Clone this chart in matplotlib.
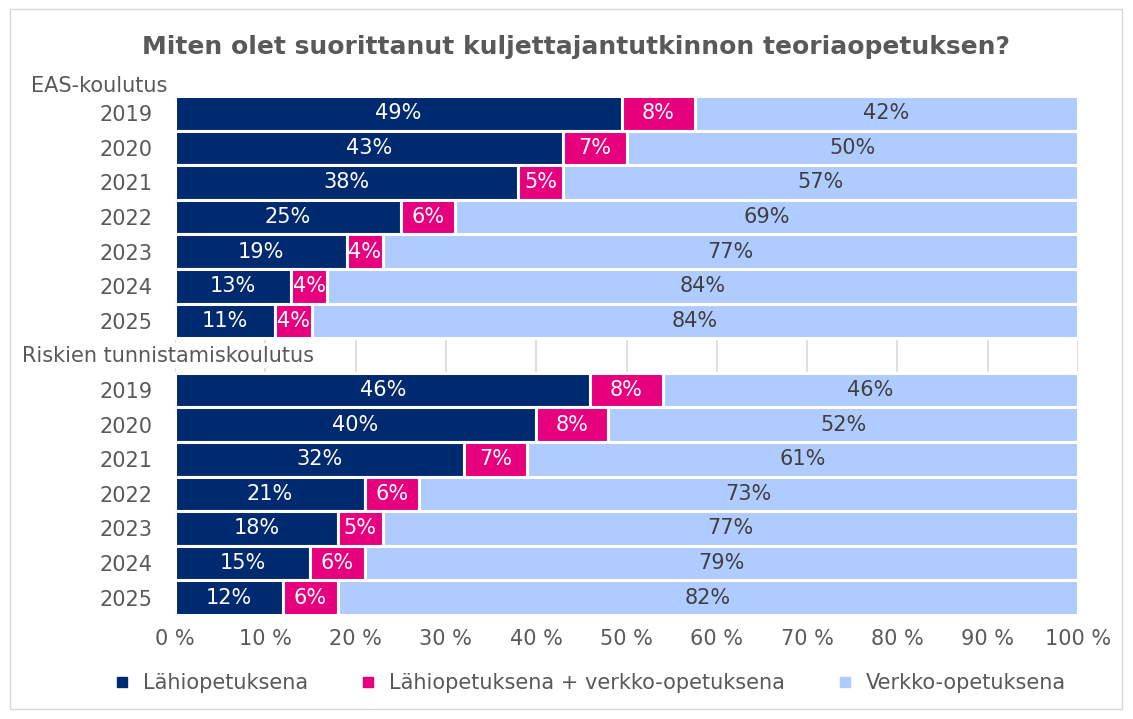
import numpy as np
import matplotlib.pyplot as plt
from matplotlib.lines import Line2D

years = ['2019', '2020', '2021', '2022', '2023', '2024', '2025']
groups = ['EAS-koulutus', 'Riskien tunnistamiskoulutus']
series = ['Lähiopetuksena', 'Lähiopetuksena + verkko-opetuksena', 'Verkko-opetuksena']

eas_lahi = [49, 43, 38, 25, 19, 13, 11]
eas_both = [8, 7, 5, 6, 4, 4, 4]
eas_verkko = [42, 50, 57, 69, 77, 84, 84]

risk_lahi = [46, 40, 32, 21, 18, 15, 12]
risk_both = [8, 8, 7, 6, 5, 6, 6]
risk_verkko = [46, 52, 61, 73, 77, 79, 82]

colors = ['#002A70', '#E6007E', '#AFCBFF']
text_colors = ['white', 'white', '#404040']
gray = '#595959'
fs = 15

fig = plt.figure(figsize=(11.33, 7.19), dpi=100)
ax = fig.add_axes([175 / 1133, 104 / 719, 903 / 1133, 519 / 719])

# row positions: EAS rows 0..6, gap row 7, Riskien rows 8..14
rows = [np.arange(7), np.arange(8, 15)]
data = [[eas_lahi, eas_both, eas_verkko], [risk_lahi, risk_both, risk_verkko]]

for pos, grp in zip(rows, data):
    totals = np.array(grp).sum(axis=0)
    left = np.zeros(7)
    for k, vals in enumerate(grp):
        vals = np.array(vals, dtype=float)
        w = vals / totals * 100
        ax.barh(pos, w, left=left, height=1.0, color=colors[k],
                edgecolor='white', linewidth=2.2, zorder=2)
        for y, l, ww, v in zip(pos, left, w, vals):
            ax.text(l + ww / 2, y, f'{int(v)}%', ha='center', va='center',
                    fontsize=fs, color=text_colors[k], zorder=3)
        left += w

ax.set_xlim(0, 100)
ax.set_ylim(14.5, -0.5)
ax.set_xticks(np.arange(0, 101, 10))
ax.set_xticklabels([f'{t} %' for t in range(0, 101, 10)], fontsize=fs, color=gray)
ax.set_yticks(np.concatenate(rows))
ax.set_yticklabels(years + years, fontsize=fs, color=gray)
ax.tick_params(axis='both', length=0, pad=10)
ax.tick_params(axis='y', pad=16)
ax.grid(axis='x', color='#D9D9D9', linewidth=1.2, zorder=0)
ax.set_axisbelow(True)
for s in ax.spines.values():
    s.set_visible(False)

# group labels
ax.text(-0.159, 1.0, groups[0], transform=ax.transAxes, fontsize=fs, color=gray,
        ha='left', va='bottom')
ax.text(-0.169, 7, groups[1], transform=ax.get_yaxis_transform(), fontsize=fs,
        color=gray, ha='left', va='center', zorder=4,
        bbox=dict(facecolor='white', edgecolor='none', pad=2))

fig.text(0.508, 1 - 47 / 719, 'Miten olet suorittanut kuljettajantutkinnon teoriaopetuksen?',
         ha='center', va='center', fontsize=18, fontweight='bold', color=gray)

handles = [Line2D([], [], marker='s', linestyle='none', markersize=7,
                  markerfacecolor=c, markeredgecolor=c) for c in colors]
fig.legend(handles, series, loc='center', bbox_to_anchor=(0.515, 1 - 683 / 719),
           ncol=3, frameon=False, fontsize=fs, labelcolor=gray,
           handletextpad=0.0, columnspacing=1.9)

fig.patches.append(plt.Rectangle((10 / 1133, 10 / 719), 1112 / 1133, 700 / 719,
                                 transform=fig.transFigure, fill=False,
                                 edgecolor='#D9D9D9', linewidth=1))

fig.savefig('out.png', dpi=100)
